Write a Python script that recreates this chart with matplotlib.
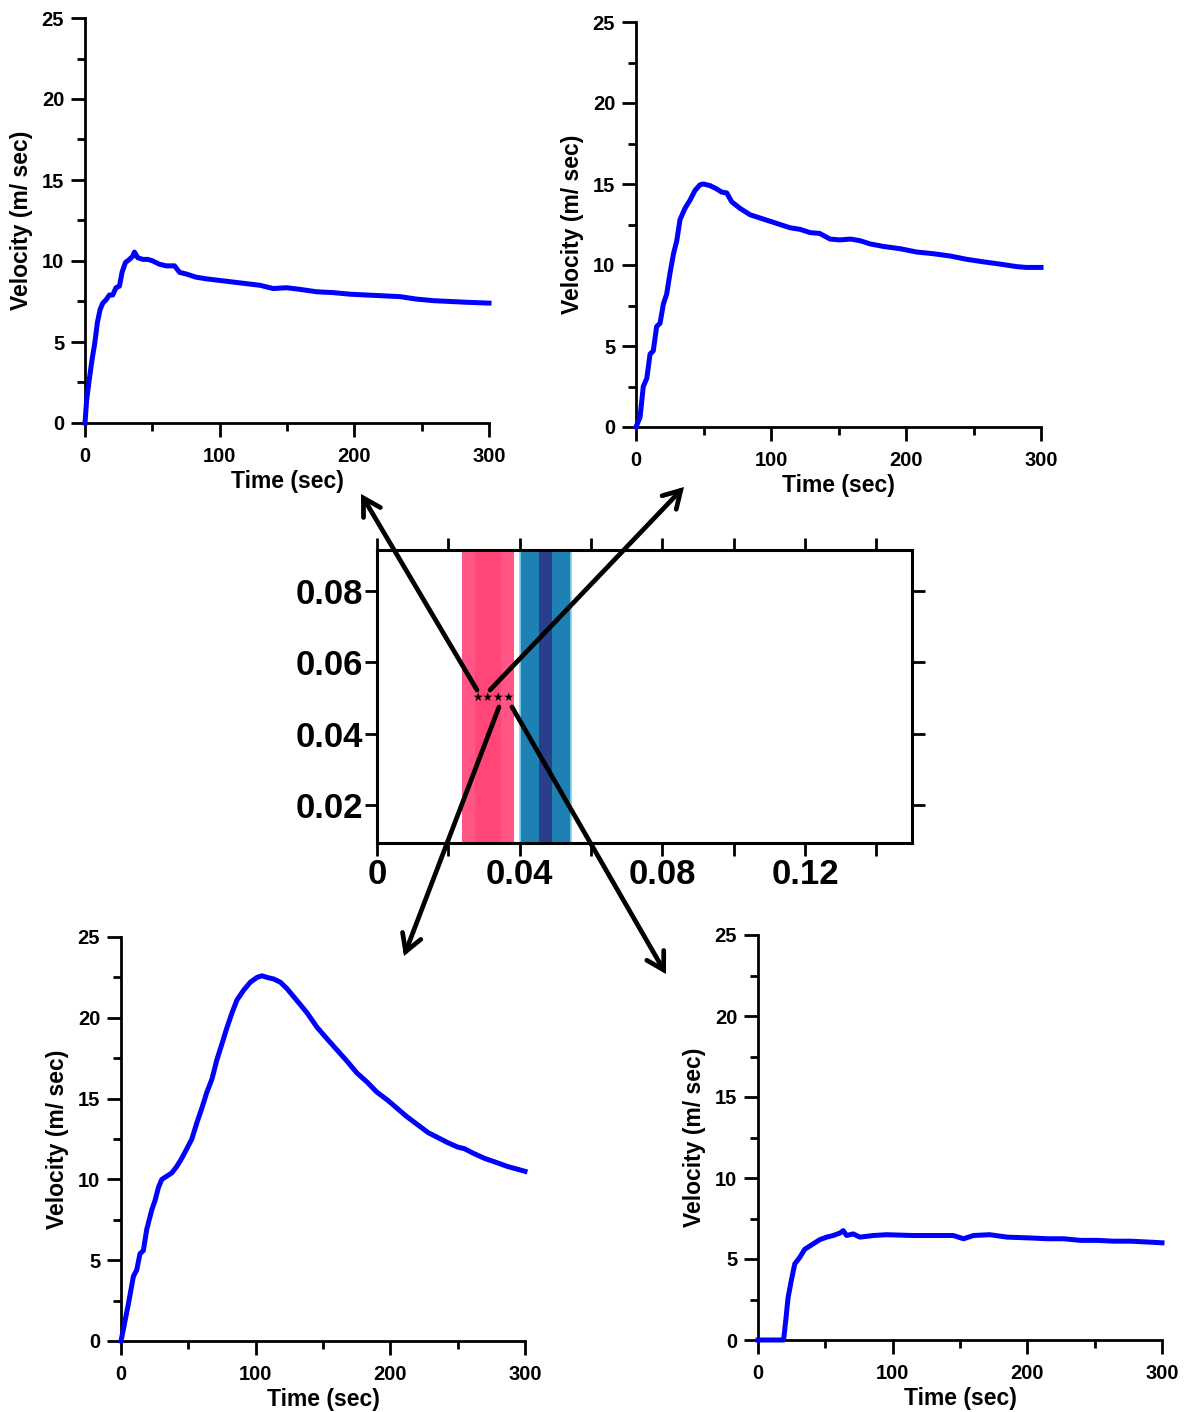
import matplotlib
matplotlib.use("Agg")
import matplotlib.pyplot as plt
from matplotlib.ticker import MultipleLocator, FixedLocator
from matplotlib.patches import FancyArrowPatch

plt.rcParams['font.family'] = ['Liberation Sans', 'DejaVu Sans']
plt.rcParams['font.weight'] = 'bold'
plt.rcParams['axes.labelweight'] = 'bold'

# --- velocity traces (time in sec, velocity in m/sec) ---
a_time = [0, 1.2, 3.2, 5.2, 7.2, 9.2, 11.2, 13.2, 15.6, 18.1, 20.6, 23, 25.6, 27.5, 30, 33,
          35.5, 36.7, 39.2, 43, 46.7, 50.4, 55.3, 60.3, 66.5, 70.2, 75, 82.6, 90, 100, 110,
          120, 130, 139.7, 149.6, 159.6, 172, 184, 197, 209, 221.6, 234, 246, 259, 271.6, 284, 300]
a_vel = [0, 1.4, 2.7, 3.9, 4.9, 6.2, 7.0, 7.4, 7.6, 7.9, 7.9, 8.35, 8.45, 9.3, 9.9, 10.1,
         10.3, 10.55, 10.2, 10.1, 10.1, 10.0, 9.8, 9.7, 9.7, 9.3, 9.2, 9.0, 8.9, 8.8, 8.7,
         8.6, 8.5, 8.3, 8.35, 8.25, 8.1, 8.05, 7.95, 7.9, 7.85, 7.8, 7.65, 7.55, 7.5, 7.45, 7.4]

b_time = [0, 3, 5.4, 8, 10.4, 12.8, 15.3, 17.8, 20.3, 22.7, 25.2, 27.8, 30.2, 32.6, 36.3, 40,
          43.7, 47.4, 50, 54.8, 59.7, 63.4, 67.2, 70.9, 77, 84.5, 91.9, 99.3, 106.7, 114,
          121.5, 129, 136, 143.8, 151, 159, 166, 173.5, 183, 196, 208, 220, 233, 245, 257,
          270, 282, 289, 300]
b_vel = [0, 0.6, 2.5, 3.0, 4.5, 4.7, 6.2, 6.4, 7.6, 8.2, 9.5, 10.7, 11.5, 12.8, 13.5, 14.0,
         14.6, 14.95, 15.0, 14.9, 14.7, 14.5, 14.45, 13.9, 13.5, 13.1, 12.9, 12.7, 12.5, 12.3,
         12.2, 12.0, 11.95, 11.6, 11.55, 11.6, 11.5, 11.3, 11.15, 11.0, 10.8, 10.7, 10.55,
         10.35, 10.2, 10.05, 9.9, 9.85, 9.85]

c_time = [0, 1.7, 5.5, 9.2, 11.7, 14.1, 16.6, 19.1, 22.8, 25.3, 27.8, 30.3, 34, 37.7, 41.4,
          45.1, 48.9, 52.6, 56.3, 60, 63.8, 67.5, 71.2, 75, 78.7, 82.4, 86.1, 91, 96, 101,
          104.7, 108.4, 113.4, 118.4, 123.3, 128.3, 133.3, 138.2, 145.7, 153, 160.5, 168, 175,
          183, 190, 198, 205, 212, 220, 228, 235, 242, 250, 255, 262, 270, 277, 287, 300]
c_vel = [0, 0.7, 2.3, 4.0, 4.4, 5.4, 5.6, 6.9, 8.1, 8.7, 9.5, 10.0, 10.2, 10.4, 10.8, 11.3,
         11.9, 12.5, 13.5, 14.4, 15.4, 16.2, 17.4, 18.4, 19.4, 20.3, 21.1, 21.7, 22.2, 22.5,
         22.6, 22.5, 22.4, 22.2, 21.8, 21.3, 20.8, 20.3, 19.4, 18.7, 18.0, 17.3, 16.6, 16.0,
         15.4, 14.9, 14.4, 13.9, 13.4, 12.9, 12.6, 12.3, 12.0, 11.9, 11.6, 11.3, 11.1, 10.8, 10.5]

d_time = [0, 19, 20.6, 22.3, 24.8, 27.3, 31, 34.7, 38.5, 42.2, 46, 51, 55.8, 60.8, 63.3, 65.8,
          70.7, 75.7, 85.6, 95.5, 115, 135, 145, 152.6, 160, 172, 185, 202, 214.6, 227, 239.5,
          252, 264, 276.7, 289, 300]
d_vel = [0, 0, 1.2, 2.6, 3.7, 4.7, 5.1, 5.6, 5.8, 6.0, 6.2, 6.35, 6.45, 6.6, 6.75, 6.45,
         6.55, 6.35, 6.45, 6.5, 6.45, 6.45, 6.45, 6.25, 6.45, 6.5, 6.35, 6.3, 6.25, 6.25, 6.15,
         6.15, 6.1, 6.1, 6.05, 6.0]

# --- centre panel: coloured ranges on the x axis ---
pink_outer = (0.0238, 0.0383)
pink_inner = (0.0274, 0.0347)
teal_band = (0.0401, 0.0545)
navy_band = (0.0454, 0.0492)
star_pos = (0.0327, 0.0503)
center_xticks = [0, 0.04, 0.08, 0.12]
center_xlabels = ['0', '0.04', '0.08', '0.12']
center_yticks = [0.02, 0.04, 0.06, 0.08]
center_ylabels = ['0.02', '0.04', '0.06', '0.08']

W, H = 1195, 1412
fig = plt.figure(figsize=(W / 100, H / 100), dpi=100)


def px_axes(left, top, right, bottom):
    # place an axes box given in image pixels (origin top-left)
    return fig.add_axes([left / W, 1 - bottom / H, (right - left) / W, (bottom - top) / H])


def velocity_panel(box, t, v):
    ax = px_axes(*box)
    ax.plot(t, v, color='#0000ff', lw=3.6, solid_joinstyle='round', clip_on=False, zorder=3)
    ax.set_xlim(0, 300)
    ax.set_ylim(0, 25)
    for s in ['top', 'right']:
        ax.spines[s].set_visible(False)
    for s in ['left', 'bottom']:
        ax.spines[s].set_linewidth(2)
    ax.xaxis.set_major_locator(MultipleLocator(100))
    ax.xaxis.set_minor_locator(MultipleLocator(50))
    ax.yaxis.set_major_locator(MultipleLocator(5))
    ax.yaxis.set_minor_locator(MultipleLocator(2.5))
    ax.tick_params(which='major', length=10, width=2, labelsize=14.5, pad=5)
    ax.tick_params(axis='x', which='major', pad=7)
    ax.tick_params(which='minor', length=5.5, width=2)
    ax.set_xlabel('Time (sec)', fontsize=16.5, labelpad=3)
    ax.set_ylabel('Velocity (m/ sec)', fontsize=16.5, labelpad=6)
    return ax


velocity_panel((85, 18, 489, 423), a_time, a_vel)
velocity_panel((636, 22, 1041, 427), b_time, b_vel)
velocity_panel((121, 937, 525, 1341), c_time, c_vel)
velocity_panel((758, 935, 1162, 1340), d_time, d_vel)

# centre panel
ax = px_axes(377, 550, 912, 843)
ax.axvspan(*pink_outer, color='#ff5685', lw=0)
ax.axvspan(*pink_inner, color='#ff4677', lw=0)
ax.axvspan(*teal_band, facecolor='#1f80b3', edgecolor='#7fd6f0', lw=1.2)
ax.axvspan(*navy_band, color='#2a3f8c', lw=0)
ax.text(star_pos[0], star_pos[1], '\u2605\u2605\u2605\u2605', ha='center', va='center',
        fontsize=8.5, family=['DejaVu Sans'], zorder=5)
ax.set_xlim(0, 0.15)
ax.set_ylim(0.0094, 0.0915)
for s in ax.spines.values():
    s.set_linewidth(2.2)
ax.xaxis.set_major_locator(FixedLocator(center_xticks))
ax.set_xticklabels(center_xlabels)
ax.xaxis.set_minor_locator(MultipleLocator(0.02))
ax.set_yticks(center_yticks)
ax.set_yticklabels(center_ylabels)
ax.tick_params(which='both', direction='out', top=True, right=True, width=2)
ax.tick_params(which='major', length=9, labelsize=25, pad=1)
ax.tick_params(axis='x', which='major', pad=2)
ax.tick_params(which='minor', length=9)
ax.tick_params(axis='y', which='minor', left=False, right=False)

# arrows from the stars to the four panels (image pixels: tail, head)
arrow_tails = [(477, 690), (490, 690), (499, 707), (512, 707)]
arrow_heads = [(361, 494), (684, 487), (404, 956), (666, 974)]
for (x0, y0), (x1, y1) in zip(arrow_tails, arrow_heads):
    fig.add_artist(FancyArrowPatch((x0 / W, 1 - y0 / H), (x1 / W, 1 - y1 / H),
                                   transform=fig.transFigure,
                                   arrowstyle='->,head_length=0.55,head_width=0.32',
                                   mutation_scale=22, lw=3.4, color='black',
                                   shrinkA=0, shrinkB=0, zorder=10,
                                   capstyle='round', joinstyle='miter'))

fig.savefig('out.png', dpi=100)
